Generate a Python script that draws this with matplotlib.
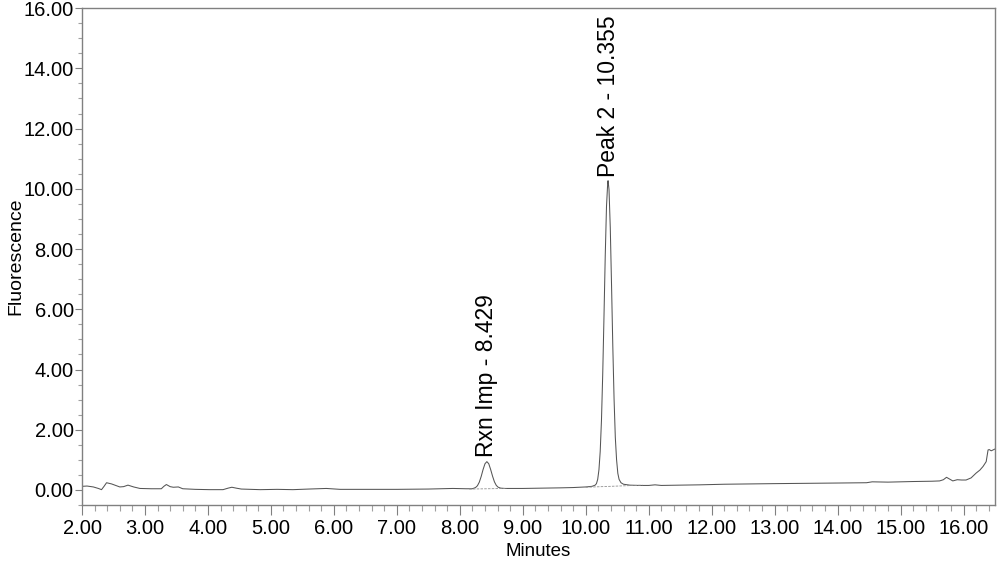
import matplotlib
matplotlib.use('Agg')
import matplotlib.pyplot as plt
from matplotlib.ticker import MultipleLocator, FormatStrFormatter

# chromatogram trace (minutes, fluorescence)
time_min = [
    2.00, 2.08, 2.18, 2.26, 2.31, 2.35, 2.39, 2.47, 2.60, 2.66, 2.73, 2.82,
    2.92, 3.10, 3.26, 3.30, 3.34, 3.40, 3.45, 3.53, 3.60, 3.80, 4.03, 4.24,
    4.32, 4.38, 4.45, 4.53, 4.83, 5.10, 5.35, 5.60, 5.88, 6.10, 6.60, 7.00,
    7.50, 7.89, 8.10, 8.20, 8.25, 8.28, 8.31, 8.34, 8.37, 8.40, 8.43, 8.46,
    8.49, 8.52, 8.55, 8.58, 8.61, 8.65, 8.72, 8.85, 9.00, 9.30, 9.60, 9.80,
    10.00, 10.10, 10.15, 10.17, 10.19, 10.21, 10.23, 10.25, 10.27, 10.29,
    10.31, 10.33, 10.35, 10.355, 10.37, 10.39, 10.41, 10.43, 10.45, 10.47,
    10.49, 10.51, 10.53, 10.56, 10.60, 10.70, 10.85, 11.00, 11.10, 11.20,
    11.50, 11.81, 12.20, 12.60, 13.00, 13.50, 14.00, 14.46, 14.55, 14.80,
    15.20, 15.50, 15.62, 15.68, 15.73, 15.78, 15.83, 15.90, 15.97, 16.04,
    16.12, 16.20, 16.26, 16.31, 16.36, 16.39, 16.41, 16.44, 16.47, 16.50,
]
signal = [
    0.12, 0.13, 0.10, 0.05, 0.01, 0.12, 0.24, 0.20, 0.10, 0.11, 0.16, 0.10,
    0.05, 0.04, 0.04, 0.12, 0.18, 0.11, 0.09, 0.10, 0.04, 0.02, 0.01, 0.01,
    0.06, 0.09, 0.06, 0.03, 0.01, 0.02, 0.01, 0.03, 0.05, 0.02, 0.02, 0.02,
    0.03, 0.05, 0.04, 0.04, 0.08, 0.14, 0.26, 0.45, 0.68, 0.87, 0.94, 0.87,
    0.68, 0.46, 0.27, 0.15, 0.09, 0.06, 0.05, 0.05, 0.05, 0.06, 0.07, 0.08,
    0.10, 0.12, 0.16, 0.21, 0.35, 0.67, 1.28, 2.31, 3.85, 5.76,
    7.78, 9.42, 10.23, 10.27, 9.97, 8.70, 6.80, 4.78, 3.03, 1.74,
    1.00, 0.55, 0.35, 0.24, 0.19, 0.16, 0.15, 0.15, 0.17, 0.15,
    0.16, 0.17, 0.19, 0.20, 0.21, 0.22, 0.23, 0.24, 0.27, 0.26,
    0.28, 0.29, 0.30, 0.34, 0.42, 0.36, 0.30, 0.34, 0.33, 0.33,
    0.40, 0.56, 0.66, 0.78, 0.94, 1.33, 1.34, 1.30, 1.33, 1.36,
]

# integration baselines drawn under the labelled peaks
base_rxn_t = [8.15, 8.75]
base_rxn_v = [0.03, 0.05]
base_pk2_t = [10.00, 10.90]
base_pk2_v = [0.09, 0.16]

peak_names = ['Rxn Imp', 'Peak 2']
peak_times = [8.429, 10.355]
peak_heights = [0.94, 10.27]

plt.rcParams['font.family'] = ['Liberation Sans', 'DejaVu Sans']

fig = plt.figure(figsize=(10, 5.61), dpi=100)
ax = fig.add_axes([0.082, 0.0998, 0.913, 0.8857])

ax.plot(time_min, signal, color='#555555', lw=0.75)
ax.plot(base_rxn_t, base_rxn_v, color='#909090', lw=0.6, ls=(0, (3, 1.5)))
ax.plot(base_pk2_t, base_pk2_v, color='#909090', lw=0.6, ls=(0, (3, 1.5)))

for name, t, h in zip(peak_names, peak_times, peak_heights):
    ax.annotate(f'{name} - {t:.3f}', xy=(t, h), xytext=(0, 3),
                textcoords='offset points', rotation=90,
                ha='center', va='bottom', fontsize=16.5)

ax.set_xlim(2.0, 16.5)
ax.set_ylim(-0.5, 16.0)

ax.xaxis.set_major_locator(MultipleLocator(1.0))
ax.xaxis.set_minor_locator(MultipleLocator(0.2))
ax.yaxis.set_major_locator(MultipleLocator(2.0))
ax.yaxis.set_minor_locator(MultipleLocator(0.5))
ax.xaxis.set_major_formatter(FormatStrFormatter('%.2f'))
ax.yaxis.set_major_formatter(FormatStrFormatter('%.2f'))

ax.tick_params(axis='x', which='major', direction='out', length=7, width=0.8,
               color='#808080', labelsize=14.5, pad=3)
ax.tick_params(axis='x', which='minor', direction='out', length=4, width=0.8,
               color='#a0a0a0')
ax.tick_params(axis='y', which='major', direction='out', length=5, width=0.8,
               color='#808080', labelsize=14.5, pad=1)
ax.tick_params(axis='y', which='minor', direction='out', length=3, width=0.8,
               color='#a0a0a0')

for sp in ax.spines.values():
    sp.set_color('#808080')
    sp.set_linewidth(1.0)

ax.set_xlabel('Minutes', fontsize=13.5)
ax.xaxis.set_label_coords(0.5, -0.0765)
ax.set_ylabel('Fluorescence', fontsize=14)
ax.yaxis.set_label_coords(-0.063, 0.5)

fig.savefig('out.png', dpi=100)
